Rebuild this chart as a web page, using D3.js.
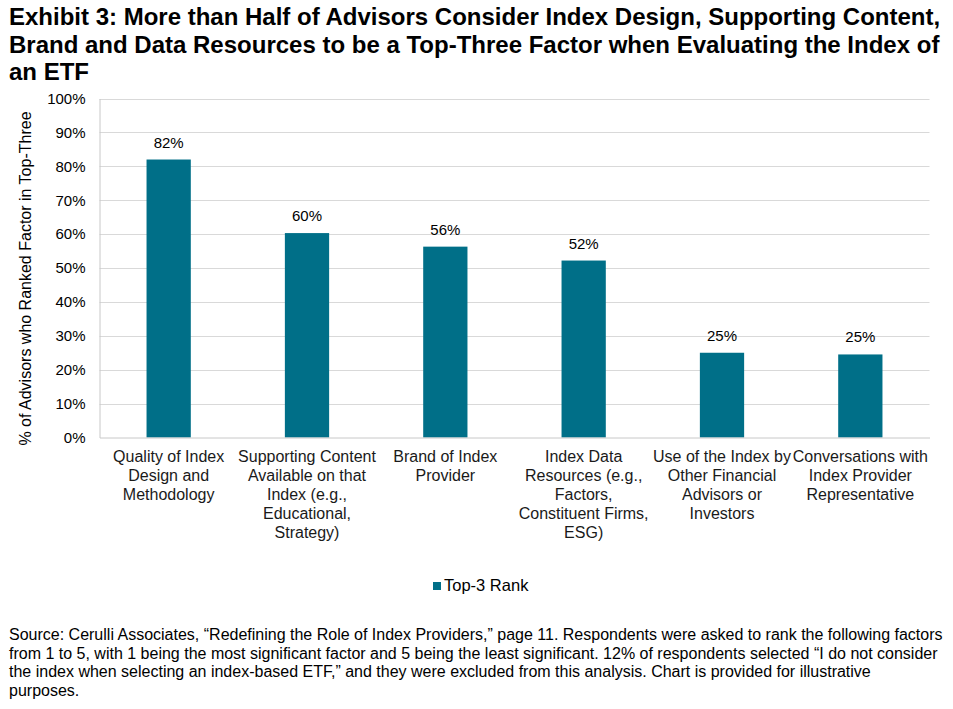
<!DOCTYPE html>
<html>
<head>
<meta charset="utf-8">
<script src="https://cdn.jsdelivr.net/npm/d3@7"></script>
<style>
  body { margin: 0; background: #fff; }
  svg { font-family: "Liberation Sans", Arial, sans-serif; }
</style>
</head>
<body>
<svg id="chart" width="953" height="709"></svg>
<script>
const titleLines = [
  "Exhibit 3: More than Half of Advisors Consider Index Design, Supporting Content,",
  "Brand and Data Resources to be a Top-Three Factor when Evaluating the Index of",
  "an ETF"
];
const categories = [
  ["Quality of Index", "Design and", "Methodology"],
  ["Supporting Content", "Available on that", "Index (e.g.,", "Educational,", "Strategy)"],
  ["Brand of Index", "Provider"],
  ["Index Data", "Resources (e.g.,", "Factors,", "Constituent Firms,", "ESG)"],
  ["Use of the Index by", "Other Financial", "Advisors or", "Investors"],
  ["Conversations with", "Index Provider", "Representative"]
];
const values = [0.82, 0.603, 0.563, 0.522, 0.25, 0.245];
const valueLabels = ["82%", "60%", "56%", "52%", "25%", "25%"];
const yTicks = [0, 0.1, 0.2, 0.3, 0.4, 0.5, 0.6, 0.7, 0.8, 0.9, 1.0];
const seriesName = "Top-3 Rank";
const yTitle = "% of Advisors who Ranked Factor in Top-Three";
const sourceLines = [
  "Source: Cerulli Associates, \u201cRedefining the Role of Index Providers,\u201d page 11. Respondents were asked to rank the following factors",
  "from 1 to 5, with 1 being the most significant factor and 5 being the least significant. 12% of respondents selected \u201cI do not consider",
  "the index when selecting an index-based ETF,\u201d and they were excluded from this analysis. Chart is provided for illustrative",
  "purposes."
];

const barColor = "#006F88";
const svg = d3.select("#chart");

// title
svg.append("g").selectAll("text")
  .data(titleLines)
  .join("text")
  .attr("x", 9)
  .attr("y", (d, i) => 25 + i * 27.5)
  .attr("font-size", 24)
  .attr("font-weight", "bold")
  .attr("fill", "#000")
  .text(d => d);

const plot = { left: 99.5, right: 929.5, top: 98.5, bottom: 437.5 };

const x = d3.scaleBand()
  .domain(d3.range(categories.length))
  .range([plot.left, plot.right])
  .paddingInner(0.68)
  .paddingOuter(0.34);

const y = d3.scaleLinear()
  .domain([0, 1])
  .range([plot.bottom, plot.top]);

// gridlines
svg.append("g").selectAll("line")
  .data(yTicks.slice(1))
  .join("line")
  .attr("x1", plot.left).attr("x2", plot.right)
  .attr("y1", d => Math.round(y(d)) + 0.5).attr("y2", d => Math.round(y(d)) + 0.5)
  .attr("stroke", "#d9d9d9").attr("stroke-width", 1);

// y axis
const yAxis = svg.append("g")
  .attr("transform", `translate(${plot.left},0)`)
  .call(d3.axisLeft(y).tickValues(yTicks).tickFormat(d3.format(".0%")).tickSize(0).tickPadding(14));
yAxis.select(".domain").attr("stroke", "#c8c8c8");
yAxis.selectAll("text").attr("font-size", 15).attr("fill", "#000").attr("font-family", "Liberation Sans, Arial, sans-serif");

// bars
svg.append("g").selectAll("rect")
  .data(values)
  .join("rect")
  .attr("x", (d, i) => x(i))
  .attr("width", x.bandwidth())
  .attr("y", d => y(d))
  .attr("height", d => y(0) - y(d))
  .attr("fill", barColor);

// value labels
svg.append("g").selectAll("text")
  .data(values)
  .join("text")
  .attr("x", (d, i) => x(i) + x.bandwidth() / 2)
  .attr("y", d => y(d) - 12)
  .attr("text-anchor", "middle")
  .attr("font-size", 15)
  .attr("fill", "#000")
  .text((d, i) => valueLabels[i]);

// x axis
const xAxis = svg.append("g")
  .attr("transform", `translate(0,${plot.bottom})`)
  .call(d3.axisBottom(x).tickSize(0).tickFormat(""));
xAxis.select(".domain").attr("stroke", "#c8c8c8");

// category labels
const catG = svg.append("g").selectAll("text")
  .data(categories)
  .join("text")
  .attr("text-anchor", "middle")
  .attr("font-size", 16)
  .attr("fill", "#1a1a1a");
catG.each(function (lines, i) {
  d3.select(this).selectAll("tspan")
    .data(lines)
    .join("tspan")
    .attr("x", x(i) + x.bandwidth() / 2)
    .attr("y", (d, j) => 462 + j * 19)
    .text(d => d);
});

// y title
svg.append("text")
  .attr("transform", `translate(31,${278.5}) rotate(-90)`)
  .attr("text-anchor", "middle")
  .attr("font-size", 16)
  .attr("fill", "#000")
  .text(yTitle);

// legend
const leg = svg.append("g").attr("transform", "translate(433,585)");
leg.append("rect").attr("x", 0).attr("y", -3).attr("width", 8).attr("height", 8).attr("fill", barColor);
leg.append("text").attr("x", 11).attr("y", 6).attr("font-size", 16.5).attr("fill", "#000").text(seriesName);

// source
svg.append("g").selectAll("text")
  .data(sourceLines)
  .join("text")
  .attr("x", 9)
  .attr("y", (d, i) => 640 + i * 18.5)
  .attr("font-size", 16)
  .attr("fill", "#000")
  .text(d => d);
</script>
</body>
</html>
